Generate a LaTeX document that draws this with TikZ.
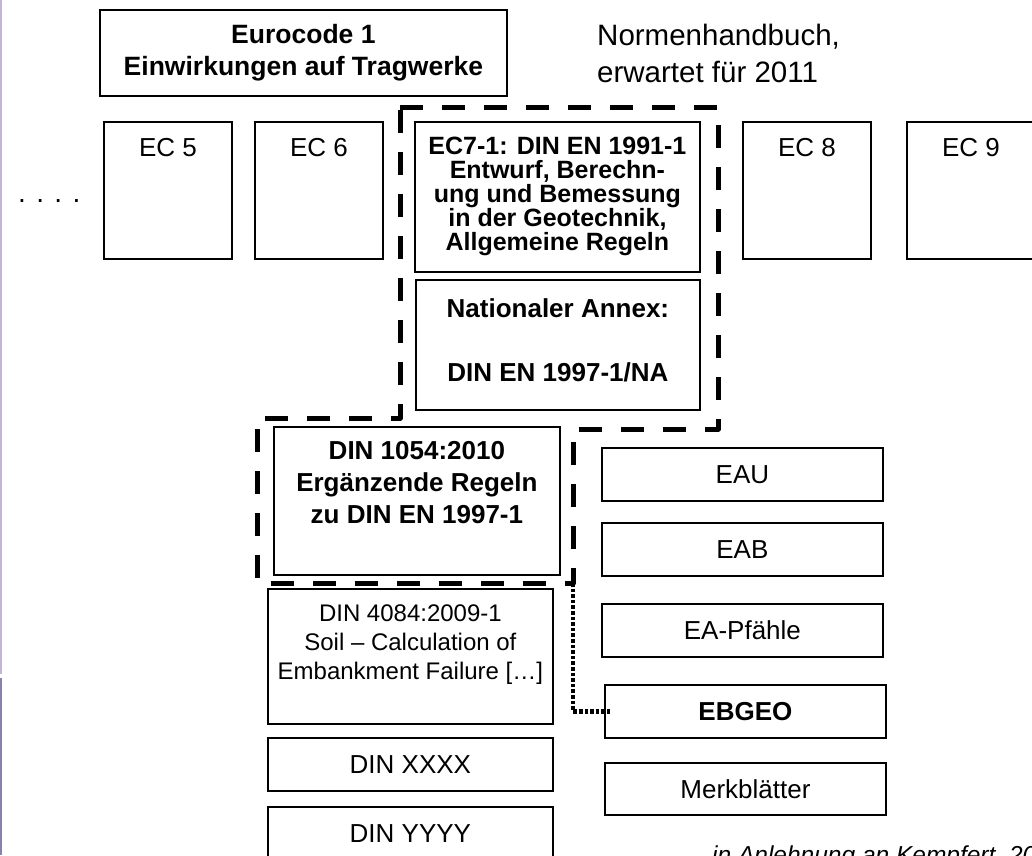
\documentclass[tikz,border=0pt]{standalone}
\usepackage{fontspec}
\setmainfont{Liberation Sans}
\definecolor{edgetop}{RGB}{196,180,216}
\definecolor{edgebot}{RGB}{140,128,176}
\tikzset{
  box/.style={draw,line width=1.8pt,anchor=north west,inner sep=0pt,align=center,font=\fontsize{26}{32}\selectfont},
  ecbox/.style={box,minimum width=128pt,minimum height=137pt},
  rowbox/.style={box,minimum width=281pt,minimum height=53pt},
  dinbox/.style={box,minimum width=285pt,minimum height=53pt},
  toplbl/.style={anchor=north,inner sep=0pt,align=center,font=\fontsize{26}{32}\selectfont},
  frame/.style={line width=5pt,dash pattern=on 23pt off 19pt,line join=round},
  dotline/.style={line width=4.4pt,dash pattern=on 3.6pt off 2pt}
}
\begin{document}
\begin{tikzpicture}[x=1pt,y=-1pt]
\path[use as bounding box] (0,0) rectangle (1032,855);
\draw[edgetop,line width=1.5pt] (0.75,0)--(0.75,674);
\draw[edgebot,line width=1.5pt] (0.75,678)--(0.75,855);

\node[box,minimum width=407pt,minimum height=86pt,font=\bfseries\fontsize{26.5}{32}\selectfont] (ec1) at (99,9) {Eurocode 1\\Einwirkungen auf Tragwerke};
\node[anchor=north west,inner sep=0pt,align=left,font=\fontsize{29.5}{37}\selectfont] (hb) at (597,24) {Normenhandbuch,\\erwartet für 2011};

\node[anchor=base west,inner sep=0pt,font=\fontsize{28}{32}\selectfont] (more) at (18,202) {. . . .};
\node[ecbox,label={[toplbl,yshift=-17pt]north:EC 5}] (ec5) at (103,121) {};
\node[ecbox,label={[toplbl,yshift=-17pt]north:EC 6}] (ec6) at (254,121) {};
\node[ecbox,label={[toplbl,yshift=-17pt]north:EC 8}] (ec8) at (742,121) {};
\node[ecbox,label={[toplbl,yshift=-17pt]north:EC 9}] (ec9) at (906,121) {};

\node[box,minimum width=285pt,minimum height=150pt,font=\bfseries\fontsize{25}{24}\selectfont] (ec7) at (414,121)
  {EC7-1: DIN EN 1991-1\\Entwurf, Berechn-\\ung und Bemessung\\in der Geotechnik,\\Allgemeine Regeln};
\node[box,minimum width=284pt,minimum height=130pt,
  label={[toplbl,yshift=-19pt,font=\bfseries\fontsize{26}{32}\selectfont]north:Nationaler Annex:\\[32pt]DIN EN 1997-1/NA}] (na) at (415,279) {};

\node[box,minimum width=286pt,minimum height=148pt,
  label={[toplbl,yshift=-15pt,font=\bfseries\fontsize{26}{32}\selectfont]north:DIN 1054:2010\\Ergänzende Regeln\\zu DIN EN 1997-1}] (din1054) at (273,426) {};
\node[box,minimum width=285pt,minimum height=135pt,
  label={[toplbl,yshift=-17pt,font=\fontsize{24}{29}\selectfont]north:DIN 4084:2009-1\\Soil – Calculation of\\Embankment Failure […]}] (din4084) at (267,588) {};
\node[dinbox] (dinx) at (267,737) {DIN XXXX};
\node[dinbox] (diny) at (267,806) {DIN YYYY};

\node[rowbox] (eau) at (601,447) {EAU};
\node[rowbox] (eab) at (601,522) {EAB};
\node[rowbox] (eap) at (601,603) {EA-Pfähle};
\node[rowbox,font=\bfseries\fontsize{26}{32}\selectfont] (ebgeo) at (604,684) {EBGEO};
\node[rowbox,minimum height=52pt] (merk) at (604,762) {Merkblätter};

% dashed outline round EC7-1, NA and DIN 1054
\draw[frame] (400,107)--(718,107)--(718,429)--(573,429)--(573,583)--(257,583)--(257,418)--(400,418)--cycle;
\coordinate (fr) at (573,583);
\draw[dotline] (fr) |- ([xshift=6pt]ebgeo.west);

\node[anchor=north west,inner sep=0pt,font=\itshape\fontsize{24.5}{29}\selectfont] (src) at (712,846) {in Anlehnung an Kempfert, 20};
\end{tikzpicture}
\end{document}
